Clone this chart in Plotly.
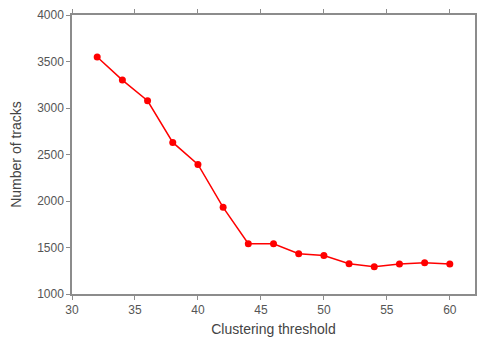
import plotly.graph_objects as go

thresholds = [32, 34, 36, 38, 40, 42, 44, 46, 48, 50, 52, 54, 56, 58, 60]
tracks = [3548, 3300, 3078, 2630, 2393, 1932, 1541, 1541, 1434, 1414, 1326, 1294, 1323, 1337, 1323]

fig = go.Figure()
fig.add_trace(go.Scatter(
    x=thresholds, y=tracks, mode="lines+markers",
    line=dict(color="#ff0000", width=1.5),
    marker=dict(color="#ff0000", size=7),
    showlegend=False,
))

axis_common = dict(
    showgrid=False, zeroline=False, showline=True, linecolor="#8c8c8c", linewidth=1.5,
    mirror="ticks", ticks="outside", ticklen=4, tickcolor="#8c8c8c", tickwidth=1,
    tickfont=dict(family="Liberation Sans, Arial, sans-serif", size=12, color="#555555"),
)

fig.update_layout(
    width=477, height=339,
    margin=dict(l=72, r=2, t=15, b=45, autoexpand=False),
    paper_bgcolor="white", plot_bgcolor="white",
    xaxis=dict(range=[30, 62], dtick=5, tick0=30,
               title=dict(text="Clustering threshold", standoff=8,
                          font=dict(family="Liberation Sans, Arial, sans-serif", size=14, color="#444444")),
               **axis_common),
    yaxis=dict(range=[1000, 4000], dtick=500,
               title=dict(text="Number of tracks", standoff=12,
                          font=dict(family="Liberation Sans, Arial, sans-serif", size=14, color="#444444")),
               **axis_common),
)

fig.write_html("out.html", config={"displayModeBar": False},
               post_script="document.body.style.margin='0';document.body.style.overflow='hidden';")
